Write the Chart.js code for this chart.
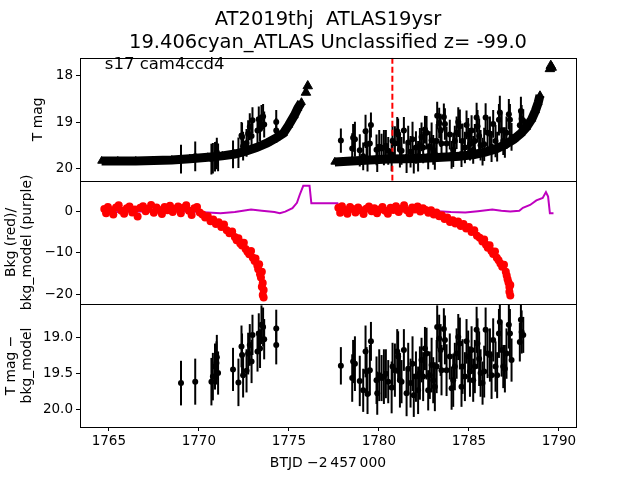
<!DOCTYPE html>
<html lang="en">
<head>
<meta charset="UTF-8">
<title>AT2019thj ATLAS19ysr</title>
<script src="https://cdn.jsdelivr.net/npm/chart.js"></script>
<style>
  * { margin: 0; padding: 0; box-sizing: border-box; }
  body { background: #fff; width: 640px; height: 480px; overflow: hidden; }
  #lc { display: block; }
</style>
</head>
<body>
<canvas id="lc" width="640" height="480"></canvas>
<script>
// ---- data (BTJD - 2457000) ----

// upper limits (triangles), orbit 1 and orbit 2
const limT1 = [1764.6, 1765.5, 1766.5, 1767.5, 1768.5, 1769.5, 1770.5, 1771.3, 1772.0, 1772.6, 1773.2, 1773.8, 1774.3, 1774.7, 1775.0, 1775.3, 1775.5, 1775.7];
const limM1 = [19.84, 19.84, 19.84, 19.83, 19.82, 19.79, 19.76, 19.73, 19.69, 19.63, 19.55, 19.45, 19.34, 19.24, 19.06, 18.86, 18.70, 18.57];
const limT2 = [1777.55, 1778.5, 1779.5, 1780.5, 1781.5, 1782.5, 1783.5, 1784.5, 1785.3, 1785.9, 1786.5, 1787.0, 1787.5, 1787.9, 1788.2, 1788.5, 1788.7, 1788.85, 1788.95];
const limM2 = [19.86, 19.84, 19.82, 19.80, 19.79, 19.78, 19.76, 19.74, 19.70, 19.65, 19.58, 19.49, 19.37, 19.24, 19.11, 18.93, 18.75, 18.58, 18.42];
// the isolated bright limits at the end of each orbit
const spikeT = [1775.95, 1776.05, 1789.50, 1789.55, 1789.60];
const spikeM = [18.36, 18.22, 17.85, 17.78, 17.82];

// detections: time, T mag (top panel), T mag - bkg_model (bottom panel), error
const detT = [1769.01, 1769.80, 1770.70, 1770.78, 1770.90, 1770.98, 1771.00, 1771.07, 1771.90, 1772.20,
  1772.37, 1772.40, 1772.46, 1772.65, 1772.74, 1772.83, 1772.93, 1772.98, 1773.26, 1773.33,
  1773.40, 1773.48, 1773.57, 1773.63, 1774.30, 1774.30,
  1777.89, 1778.52, 1778.57, 1778.67, 1778.94, 1779.13, 1779.26, 1779.32, 1779.37, 1779.50,
  1779.56, 1779.87, 1779.91, 1780.02, 1780.15, 1780.28, 1780.39, 1780.52, 1780.71, 1780.76,
  1780.89, 1781.02, 1781.07, 1781.17, 1781.26, 1781.39, 1781.54, 1781.63, 1781.76, 1781.87,
  1781.94, 1782.06, 1782.18, 1782.28, 1782.37, 1782.46, 1782.56, 1782.65, 1782.74, 1782.83,
  1782.93, 1783.02, 1783.11, 1783.21, 1783.24, 1783.35, 1783.43, 1783.48, 1783.61, 1783.67,
  1783.76, 1783.94, 1784.04, 1784.13, 1784.22, 1784.32, 1784.41, 1784.50, 1784.59, 1784.65,
  1784.78, 1784.87, 1784.96, 1785.06, 1785.15, 1785.24, 1785.33, 1785.43, 1785.48, 1785.57,
  1785.65, 1785.76, 1785.85, 1785.93, 1786.04, 1786.17, 1786.26, 1786.35, 1786.48, 1786.57,
  1786.67, 1786.72, 1786.82, 1786.91, 1787.00, 1787.09, 1787.22, 1787.28, 1787.37, 1787.83,
  1787.89, 1787.93, 1788.02];
const detMag = [19.80, 19.74, 19.80, 19.78, 19.75, 19.72, 19.65, 19.76, 19.70, 19.66,
  19.29, 19.32, 19.52, 19.45, 19.25, 19.10, 19.30, 18.96, 19.18, 18.94,
  19.15, 18.90, 18.88, 19.05, 19.00, 19.18,
  19.40, 19.57, 19.34, 19.37, 19.61, 19.74, 19.20, 19.48, 19.79, 19.46,
  19.06, 19.60, 19.78, 19.53, 19.57, 19.55, 19.51, 19.62, 19.70, 19.41,
  19.46, 19.20, 19.27, 19.60, 19.62, 19.18, 19.78, 19.44, 19.64, 19.37,
  19.81, 19.55, 19.74, 19.50, 19.32, 19.55, 19.16, 19.23, 19.74, 19.53,
  19.39, 19.60, 19.69, 19.41, 18.86, 19.02, 19.18, 19.46, 18.89, 19.04,
  19.46, 19.27, 19.71, 19.60, 19.41, 19.23, 19.00, 19.09, 19.69, 19.41,
  19.55, 19.06, 19.27, 19.48, 19.18, 19.60, 19.41, 18.90, 19.09, 19.30,
  19.50, 19.64, 19.48, 18.90, 19.23, 19.25, 19.53, 19.04, 19.41, 19.53,
  18.95, 18.79, 19.18, 19.41, 19.44, 19.23, 18.83, 18.95, 19.32, 19.07,
  18.76, 18.93, 18.97];
const detDiff = [19.64, 19.62, 19.62, 19.55, 19.41, 19.36, 19.28, 19.50, 19.45, 19.63,
  19.13, 19.25, 19.53, 19.47, 19.23, 19.11, 19.34, 18.97, 19.20, 18.95,
  19.16, 18.83, 18.86, 19.03, 18.88, 19.11,
  19.40, 19.57, 19.34, 19.37, 19.61, 19.74, 19.20, 19.48, 19.79, 19.46,
  19.06, 19.60, 19.78, 19.53, 19.57, 19.55, 19.51, 19.62, 19.70, 19.41,
  19.46, 19.20, 19.27, 19.60, 19.62, 19.18, 19.78, 19.44, 19.64, 19.37,
  19.81, 19.55, 19.74, 19.50, 19.32, 19.55, 19.16, 19.23, 19.74, 19.53,
  19.39, 19.60, 19.69, 19.41, 18.86, 19.02, 19.18, 19.46, 18.89, 19.04,
  19.46, 19.27, 19.71, 19.60, 19.41, 19.23, 19.00, 19.09, 19.69, 19.41,
  19.55, 19.06, 19.27, 19.48, 19.18, 19.60, 19.41, 18.90, 19.09, 19.30,
  19.50, 19.64, 19.48, 18.90, 19.23, 19.25, 19.53, 19.04, 19.41, 19.53,
  18.95, 18.79, 19.18, 19.41, 19.44, 19.23, 18.83, 18.95, 19.32, 19.07,
  18.76, 18.93, 18.97];
const detErr = [0.31, 0.32, 0.33, 0.33, 0.32, 0.30, 0.31, 0.30, 0.30, 0.33,
  0.29, 0.30, 0.31, 0.30, 0.29, 0.29, 0.30, 0.28, 0.28, 0.28,
  0.27, 0.27, 0.27, 0.28, 0.26, 0.27,
  0.26, 0.33, 0.30, 0.38, 0.35, 0.30, 0.36, 0.34, 0.28, 0.35,
  0.27, 0.33, 0.30, 0.36, 0.32, 0.38, 0.34, 0.30, 0.36, 0.33,
  0.37, 0.31, 0.35, 0.38, 0.30, 0.29, 0.32, 0.36, 0.34, 0.38,
  0.30, 0.35, 0.33, 0.37, 0.31, 0.34, 0.30, 0.36, 0.28, 0.33,
  0.38, 0.32, 0.34, 0.37, 0.30, 0.33, 0.36, 0.35, 0.29, 0.34,
  0.36, 0.32, 0.30, 0.37, 0.33, 0.35, 0.32, 0.36, 0.28, 0.38,
  0.34, 0.31, 0.36, 0.35, 0.33, 0.30, 0.37, 0.32, 0.35, 0.38,
  0.33, 0.30, 0.36, 0.31, 0.34, 0.37, 0.33, 0.30, 0.35, 0.32,
  0.34, 0.36, 0.37, 0.30, 0.33, 0.35, 0.33, 0.34, 0.30, 0.27,
  0.31, 0.30, 0.25];

// background flux (red)
const bkgT = [1764.75, 1764.85, 1764.95, 1765.1, 1765.25, 1765.4, 1765.55, 1765.7, 1765.85, 1766.0,
  1766.15, 1766.3, 1766.45, 1766.6, 1766.75, 1766.9, 1767.05, 1767.2, 1767.35, 1767.5,
  1767.65, 1767.8, 1767.95, 1768.1, 1768.25, 1768.4, 1768.55, 1768.7, 1768.85, 1769.0,
  1769.15, 1769.3, 1769.45, 1769.6, 1769.75, 1769.9, 1770.05, 1770.2, 1770.35, 1770.5,
  1770.65, 1770.8, 1770.95, 1771.1, 1771.25, 1771.4, 1771.55, 1771.7, 1771.85, 1772.0,
  1772.1, 1772.2, 1772.3, 1772.4, 1772.5, 1772.6, 1772.7, 1772.8, 1772.9, 1773.0,
  1773.1, 1773.15, 1773.25, 1773.3, 1773.35, 1773.4, 1773.45, 1773.5, 1773.55, 1773.5,
  1773.6, 1773.55, 1773.6,
  1777.75, 1777.85, 1777.95, 1778.1, 1778.25, 1778.4, 1778.55, 1778.7, 1778.85, 1779.0,
  1779.15, 1779.3, 1779.45, 1779.6, 1779.75, 1779.9, 1780.05, 1780.2, 1780.35, 1780.5,
  1780.65, 1780.8, 1780.95, 1781.1, 1781.25, 1781.4, 1781.55, 1781.7, 1781.85, 1782.0,
  1782.15, 1782.3, 1782.45, 1782.6, 1782.75, 1782.9, 1783.05, 1783.2, 1783.35, 1783.5,
  1783.65, 1783.8, 1783.95, 1784.1, 1784.25, 1784.4, 1784.55, 1784.7, 1784.85, 1785.0,
  1785.15, 1785.3, 1785.45, 1785.6, 1785.75, 1785.85, 1785.95, 1786.05, 1786.15, 1786.25,
  1786.35, 1786.45, 1786.55, 1786.65, 1786.75, 1786.85, 1786.95, 1787.05, 1787.1, 1787.15,
  1787.2, 1787.25, 1787.3, 1787.25, 1787.3];
const bkgV = [0.5, -0.5, 1.0, 0.2, -0.8, 0.9, 1.4, 0.1, -0.6, 0.7,
  1.1, -0.3, 0.4, -1.3, 0.8, 1.2, 0.0, 0.6, 1.5, -0.4,
  0.9, 0.3, -0.7, 1.0, 0.2, 1.3, -0.2, 0.6, 1.1, -0.5,
  0.8, 1.4, 0.1, -0.9, 0.7, 1.0, -0.3, -0.8, -1.5, -1.2,
  -2.4, -2.0, -3.1, -2.7, -3.8, -3.2, -4.6, -5.3, -4.9, -6.2,
  -7.0, -6.5, -7.8, -8.3, -7.6, -9.1, -9.8, -10.4, -9.6, -11.2,
  -12.0, -11.4, -13.1, -14.0, -12.8, -15.2, -16.0, -14.6, -17.3, -18.2,
  -19.0, -20.2, -20.8,
  0.8, -0.4, 1.2, 0.3, -0.6, 1.0, 0.5, -0.3, 0.9, 0.2,
  -0.7, 0.6, 1.1, 0.0, 0.7, -0.5, 0.4, 1.0, 0.1, -0.6,
  0.8, 0.3, 1.2, -0.2, 0.6, 1.4, 0.2, -0.5, 0.9, 0.4,
  1.1, -0.1, 0.7, 0.3, -0.4, 0.2, -0.8, -0.3, -1.2, -1.0,
  -1.9, -1.5, -2.6, -2.2, -3.0, -2.5, -3.6, -3.1, -4.2, -3.8,
  -5.0, -4.6, -5.9, -6.4, -7.3, -6.8, -8.1, -8.8, -8.2, -9.6,
  -10.3, -9.7, -11.2, -11.8, -12.6, -13.4, -12.9, -14.6, -15.5, -16.4,
  -17.2, -18.3, -17.8, -19.4, -20.3];

// background model (purple)
const modelT = [1764.75, 1765.5, 1766.5, 1767.5, 1768.5, 1769.5, 1770.5, 1771.2, 1772.0, 1772.9,
  1773.5, 1774.2, 1774.5, 1774.8, 1775.2, 1775.45, 1775.6, 1775.8, 1776.15, 1776.25,
  1777.7, 1777.8, 1778.5, 1779.5, 1780.5, 1781.5, 1782.5, 1783.3, 1784.0, 1784.8,
  1785.5, 1786.3, 1786.8, 1787.3, 1787.8, 1788.0, 1788.4, 1788.75, 1789.1, 1789.28,
  1789.4, 1789.5, 1789.7];
const modelV = [-0.3, -0.2, -0.1, 0.0, -0.1, -0.1, -0.3, -0.5, -0.2, 0.4,
  0.1, -0.2, -0.5, -0.1, 0.7, 2.0, 3.9, 6.1, 6.1, 1.9,
  1.9, 0.5, 0.3, 0.3, 0.3, 0.3, 0.2, 0.0, -0.2, -0.3,
  0.0, 0.4, 0.1, -0.1, 0.1, 0.8, 1.5, 2.6, 3.2, 4.6,
  3.5, -0.5, -0.5];

const discoveryT = 1780.75;   // red dashed line
const xRange = [1763.4, 1790.95];
const magRange = [17.61, 20.27];
const bkgRange = [-22.35, 7.3];
const diffRange = [18.54, 20.25];

const titleLines = ['AT2019thj  ATLAS19ysr', '19.406cyan_ATLAS Unclassified z= -99.0'];
const panelNote = 's17 cam4ccd4';

// ---- helpers ----
const pts = (xs, ys) => xs.map((x, i) => ({ x: x, y: ys[i] }));
const minus = v => String(v).replace('-', '\u2212');
const FONT = 'DejaVu Sans';

Chart.defaults.font.family = FONT;
Chart.defaults.color = '#000';

// vertical error bars, clipped to the panel of their y axis
const errorBars = {
  id: 'errorBars',
  beforeDatasetsDraw(chart) {
    const ctx = chart.ctx;
    const xs = chart.scales.x;
    chart.data.datasets.forEach(ds => {
      if (!ds.errors) return;
      const ys = chart.scales[ds.yAxisID];
      ctx.save();
      ctx.beginPath();
      ctx.rect(chart.chartArea.left, ys.top, chart.chartArea.width, ys.bottom - ys.top);
      ctx.clip();
      ctx.strokeStyle = '#000';
      ctx.lineWidth = 2;
      ds.data.forEach((p, k) => {
        const px = xs.getPixelForValue(p.x);
        ctx.beginPath();
        ctx.moveTo(px, ys.getPixelForValue(p.y - ds.errors[k]));
        ctx.lineTo(px, ys.getPixelForValue(p.y + ds.errors[k]));
        ctx.stroke();
      });
      ctx.restore();
    });
  }
};

// box around each panel + the sector/camera note
const panelFrames = {
  id: 'panelFrames',
  afterDraw(chart) {
    const { ctx, chartArea } = chart;
    ctx.save();
    ctx.strokeStyle = '#000';
    ctx.lineWidth = 1;
    ['y1', 'y2', 'y3'].forEach(id => {
      const s = chart.scales[id];
      ctx.strokeRect(Math.round(chartArea.left) + 0.5, Math.round(s.top) + 0.5,
        Math.round(chartArea.width), Math.round(s.bottom - s.top));
    });
    ctx.font = '16.5px "' + FONT + '"';
    ctx.fillStyle = '#000';
    ctx.textAlign = 'left';
    ctx.textBaseline = 'alphabetic';
    ctx.fillText(panelNote, chart.scales.x.getPixelForValue(1764.78), chart.scales.y1.getPixelForValue(17.86));
    ctx.restore();
  }
};

const tickGrid = { display: true, drawOnChartArea: false, drawTicks: true, tickLength: 4, color: '#000' };
const tickFont = { size: 13.5 };
const yWidth = s => { s.width = 80; };

new Chart(document.getElementById('lc'), {
  type: 'scatter',
  data: {
    datasets: [
      {
        label: 'limits orbit 1', data: pts(limT1, limM1), yAxisID: 'y1', showLine: true,
        borderColor: '#000', backgroundColor: '#000', borderWidth: 9,
        pointStyle: 'triangle', pointRadius: 4.5, pointBorderWidth: 1
      },
      {
        label: 'limits orbit 2', data: pts(limT2, limM2), yAxisID: 'y1', showLine: true,
        borderColor: '#000', backgroundColor: '#000', borderWidth: 9,
        pointStyle: 'triangle', pointRadius: 4.5, pointBorderWidth: 1
      },
      {
        label: 'bright limits', data: pts(spikeT, spikeM), yAxisID: 'y1',
        borderColor: '#000', backgroundColor: '#000', pointStyle: 'triangle', pointRadius: 5.5,
        pointBorderWidth: 1
      },
      {
        label: 'T mag', data: pts(detT, detMag), errors: detErr, yAxisID: 'y1',
        borderColor: '#000', backgroundColor: '#000', pointRadius: 3, borderWidth: 0
      },
      {
        label: 'discovery', data: [{ x: discoveryT, y: magRange[0] }, { x: discoveryT, y: magRange[1] }],
        yAxisID: 'y1', showLine: true, borderColor: '#ff0000', borderWidth: 2,
        borderDash: [6, 3], pointRadius: 0
      },
      {
        label: 'Bkg', data: pts(bkgT, bkgV), yAxisID: 'y2',
        borderColor: '#ff0000', backgroundColor: '#ff0000', pointRadius: 4, borderWidth: 0
      },
      {
        label: 'bkg_model', data: pts(modelT, modelV), yAxisID: 'y2', showLine: true,
        borderColor: '#bf00bf', borderWidth: 2, pointRadius: 0
      },
      {
        label: 'T mag - bkg_model', data: pts(detT, detDiff), errors: detErr, yAxisID: 'y3',
        borderColor: '#000', backgroundColor: '#000', pointRadius: 3, borderWidth: 0
      }
    ]
  },
  options: {
    responsive: false,
    animation: false,
    layout: { padding: { left: 0, right: 64, top: 0, bottom: 0 } },
    plugins: {
      legend: { display: false },
      tooltip: { enabled: false },
      title: {
        display: true,
        fullSize: false,
        text: titleLines,
        color: '#000',
        font: { size: 19.5, weight: 'normal', lineHeight: 1.2 },
        padding: { top: 8, bottom: 3 }
      }
    },
    scales: {
      x: {
        type: 'linear', position: 'bottom',
        min: xRange[0], max: xRange[1],
        afterFit: s => { s.height = 53; },
        grid: tickGrid, border: { display: false },
        ticks: { stepSize: 5, includeBounds: false, font: tickFont, padding: 2, maxRotation: 0,
          callback: v => String(v) },
        title: { display: true, text: 'BTJD \u22122\u2009457\u2009000', font: { size: 13.9 },
          padding: { top: 0, bottom: 8 } }
      },
      y1: {
        type: 'linear', position: 'left', stack: 'panels', stackWeight: 1, weight: 3,
        reverse: true, min: magRange[0], max: magRange[1],
        afterFit: yWidth,
        grid: tickGrid, border: { display: false },
        ticks: { stepSize: 1, includeBounds: false, font: tickFont, padding: 3, callback: v => minus(v) },
        title: { display: true, text: 'T mag', font: { size: 13.9, lineHeight: 1.2 }, padding: { top: 30, bottom: 0 } }
      },
      y2: {
        type: 'linear', position: 'left', stack: 'panels', stackWeight: 1, weight: 2,
        min: bkgRange[0], max: bkgRange[1],
        afterFit: yWidth,
        grid: tickGrid, border: { display: false },
        ticks: { stepSize: 10, includeBounds: false, font: tickFont, padding: 3, callback: v => minus(v) },
        title: { display: true, text: ['Bkg (red)/', 'bkg_model (purple)'], font: { size: 13.9, lineHeight: 1.1 },
          padding: { top: 4, bottom: 0 } }
      },
      y3: {
        type: 'linear', position: 'left', stack: 'panels', stackWeight: 1, weight: 1,
        reverse: true, min: diffRange[0], max: diffRange[1],
        afterFit: yWidth,
        grid: tickGrid, border: { display: false },
        ticks: { stepSize: 0.5, includeBounds: false, font: tickFont, padding: 3, callback: v => v.toFixed(1) },
        title: { display: true, text: ['T mag \u2212', 'bkg_model'], font: { size: 13.9, lineHeight: 1.1 },
          padding: { top: 4, bottom: 0 } }
      }
    }
  },
  plugins: [errorBars, panelFrames]
});
</script>
</body>
</html>
